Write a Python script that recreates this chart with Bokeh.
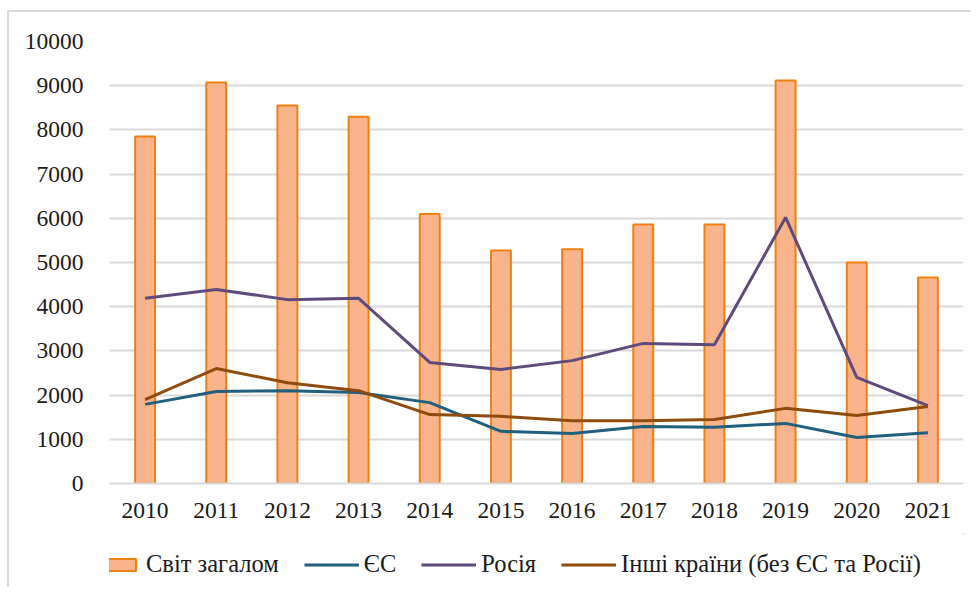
from bokeh.plotting import figure
from bokeh.layouts import column
from bokeh.models import FactorRange, Range1d, Legend, LegendItem, FixedTicker, NumeralTickFormatter
from bokeh.embed import file_html
from bokeh.resources import INLINE

years = ["2010", "2011", "2012", "2013", "2014", "2015", "2016", "2017", "2018", "2019", "2020", "2021"]
world = [7850, 9070, 8550, 8300, 6100, 5270, 5300, 5860, 5860, 9120, 5000, 4660]
eu = [1790, 2080, 2100, 2060, 1830, 1180, 1130, 1290, 1270, 1360, 1040, 1150]
russia = [4190, 4390, 4160, 4190, 2740, 2580, 2780, 3170, 3140, 6020, 2400, 1760]
others = [1900, 2600, 2280, 2100, 1560, 1520, 1420, 1420, 1450, 1700, 1540, 1740]
y_ticks = [0, 1000, 2000, 3000, 4000, 5000, 6000, 7000, 8000, 9000, 10000]
labels = ["Світ загалом", "ЄС", "Росія", "Інші країни (без ЄС та Росії)"]

FONT = "Liberation Serif"
FS = "23.5px"
BAR = dict(fill_color="#FAB48C", line_color="#F07F12", line_width=2)
C_EU, C_RU, C_OT = "#215F7E", "#5F4A7C", "#8E4B0C"
GRID = "#D9D9D9"

p = figure(width=971, height=533, x_range=FactorRange(*years), y_range=Range1d(0, 10000),
           output_backend="svg", toolbar_location=None,
           min_border_left=109, min_border_right=8, min_border_top=41, min_border_bottom=50)
p.outline_line_color = None
p.border_fill_color = None
p.background_fill_color = "white"

p.vbar(x=years, top=world, width=0.28, **BAR)
p.line(years, eu, line_color=C_EU, line_width=3)
p.line(years, russia, line_color=C_RU, line_width=3)
p.line(years, others, line_color=C_OT, line_width=3)

p.xgrid.grid_line_color = None
p.ygrid.grid_line_color = GRID
p.ygrid.grid_line_width = 2
p.yaxis.ticker = FixedTicker(ticks=y_ticks)
p.yaxis.formatter = NumeralTickFormatter(format="0")
p.yaxis.axis_line_color = None
p.yaxis.major_tick_line_color = None
p.yaxis.minor_tick_line_color = None
p.yaxis.major_label_text_font = FONT
p.yaxis.major_label_text_font_size = FS
p.yaxis.major_label_text_color = "#1a1a1a"
p.yaxis.major_label_standoff = 20

p.xaxis.axis_line_color = GRID
p.xaxis.axis_line_width = 2
p.xaxis.major_tick_line_color = None
p.xaxis.minor_tick_line_color = None
p.xaxis.major_label_text_font = FONT
p.xaxis.major_label_text_font_size = FS
p.xaxis.major_label_text_color = "#1a1a1a"
p.xaxis.major_label_standoff = 13

# legend strip below the chart (proxy renderers sit outside the visible range)
lf = figure(width=971, height=54, x_range=Range1d(0, 1), y_range=Range1d(0, 1),
            output_backend="svg", toolbar_location=None,
            min_border_left=0, min_border_right=0, min_border_top=0, min_border_bottom=0)
lf.axis.visible = False
lf.grid.visible = False
lf.outline_line_color = None
lf.border_fill_color = None
lf.background_fill_color = None
lb = lf.vbar(x=[5], top=[5], bottom=[4], width=0.1, **BAR)
l1 = lf.line([5, 6], [5, 5], line_color=C_EU, line_width=3)
l2 = lf.line([5, 6], [5, 5], line_color=C_RU, line_width=3)
l3 = lf.line([5, 6], [5, 5], line_color=C_OT, line_width=3)

legend = Legend(items=[
    LegendItem(label=labels[0], renderers=[lb]),
    LegendItem(label=labels[1], renderers=[l1]),
    LegendItem(label=labels[2], renderers=[l2]),
    LegendItem(label=labels[3], renderers=[l3]),
], orientation="horizontal", location=(-23, 9))
legend.label_text_font = FONT
legend.label_text_font_size = "24.5px"
legend.label_text_color = "#1a1a1a"
legend.label_height = 24
legend.glyph_width = 55
legend.glyph_height = 15
legend.spacing = 25
legend.label_standoff = 5
legend.padding = 0
legend.margin = 0
legend.border_line_color = None
legend.background_fill_alpha = 0
lf.add_layout(legend, "center")

layout = column(p, lf, spacing=0, styles={
    "background": ("linear-gradient(#D9D9D9,#D9D9D9) 7px 10px / 2px 100% no-repeat, "
                   "linear-gradient(#D9D9D9,#D9D9D9) 7px 10px / 100% 2px no-repeat, white"),
})
open("out.html", "w").write(file_html(layout, INLINE))
